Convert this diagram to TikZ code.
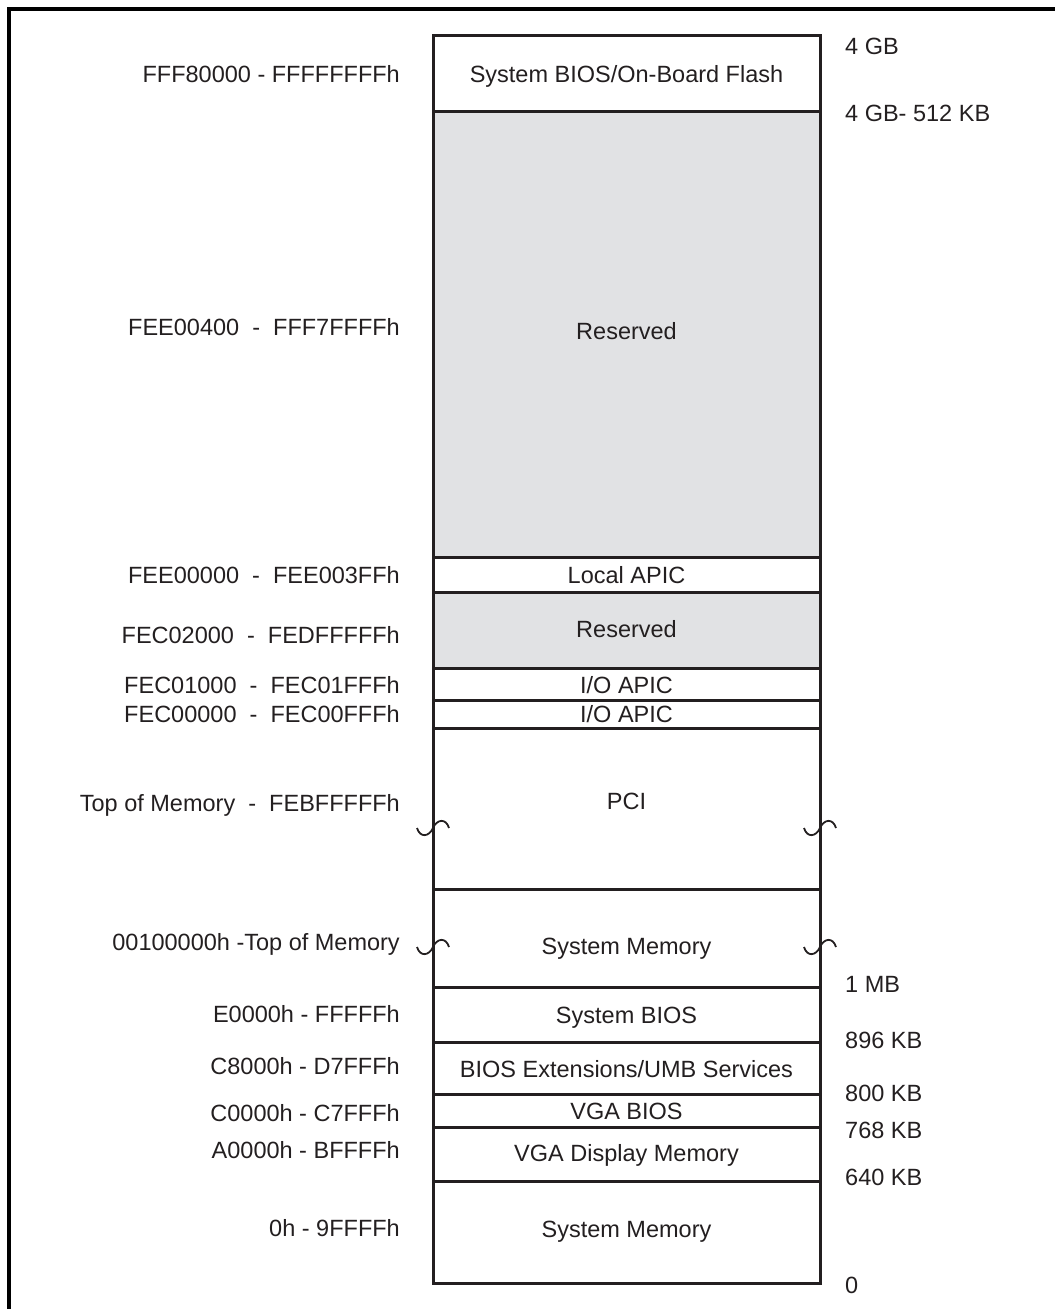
\documentclass[tikz,border=0pt]{standalone}
\usepackage{fontspec}
\setmainfont{Liberation Sans}
\definecolor{ink}{HTML}{231F20}
\definecolor{resgray}{HTML}{E1E2E4}

\tikzset{
  region/.style={draw=ink, line width=3pt},
  txt/.style={text=ink, inner sep=0pt, text height=16.8pt, text depth=0pt,
    font=\fontsize{23.5}{28}\selectfont},
  addr/.style={txt, anchor=east},
  size/.style={txt, anchor=west},
  brk/.style={draw=ink, line width=1.8pt}
}

\begin{document}
\begin{tikzpicture}[x=1pt,y=-1pt]
\useasboundingbox (0,0) rectangle (1055,1309);

% frame
\draw[line width=3.2pt] (9,1309) -- (9,9) -- (1055,9);

% memory regions
\foreach \ytop/\ybot/\ytxt/\name/\shade [count=\k] in {
    35/111/74/{System BIOS/On-Board Flash}/white,
    111/557/331/Reserved/resgray,
    557/592/575/Local APIC/white,
    592/668/629/Reserved/resgray,
    668/700/685/{I/O APIC}/white,
    700/728/714/{I/O APIC}/white,
    728/889/801/PCI/white,
    889/987/946/System Memory/white,
    987/1042/1015/System BIOS/white,
    1042/1094/1069/{BIOS Extensions/UMB Services}/white,
    1094/1127/1111/VGA BIOS/white,
    1127/1181/1153/VGA Display Memory/white,
    1181/1283/1229/System Memory/white} {
  \filldraw[region, fill=\shade] (433,\ytop) rectangle (820,\ybot);
  \node[txt] (reg\k) at (626.5,\ytxt) {\name};
}

% addresses
\foreach \ya/\range [count=\k] in {
    74/FFF80000 - FFFFFFFFh,
    327/FEE00400 \ - \ FFF7FFFFh,
    575/FEE00000 \ - \ FEE003FFh,
    635/FEC02000 \ - \ FEDFFFFFh,
    685/FEC01000 \ - \ FEC01FFFh,
    714/FEC00000 \ - \ FEC00FFFh,
    803/Top of Memory \ - \ FEBFFFFFh,
    942/00100000h -Top of Memory,
    1014/E0000h - FFFFFh,
    1066/C8000h - D7FFFh,
    1113/C0000h - C7FFFh,
    1150/A0000h - BFFFFh,
    1228/0h - 9FFFFh} {
  \node[addr] (addr\k) at (400,\ya) {\range};
}

% sizes
\foreach \ys/\amount [count=\k] in {
    46/4 GB,
    113/4 GB- 512 KB,
    984/1 MB,
    1040/896 KB,
    1093/800 KB,
    1130/768 KB,
    1177/640 KB,
    1285/0} {
  \node[size] (size\k) at (845,\ys) {\amount};
}

% break marks
\foreach \bx in {433,820} {
  \foreach \by in {828,947} {
    \draw[brk] (\bx-16,\by) .. controls (\bx-13,\by+10) and (\bx-4,\by+9) .. (\bx,\by)
      .. controls (\bx+4,\by-9) and (\bx+13,\by-10) .. (\bx+16,\by);
  }
}
\end{tikzpicture}
\end{document}
